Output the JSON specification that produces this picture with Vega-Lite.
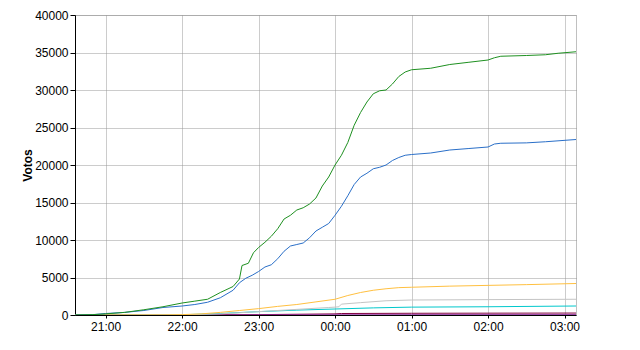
{
  "$schema": "https://vega.github.io/schema/vega-lite/v6.json",
  "autosize": "none",
  "width": 501,
  "height": 300,
  "padding": {"left": 75, "top": 15, "right": 64, "bottom": 35},
  "background": "white",
  "config": {
    "view": {"stroke": "#c0c0c0", "strokeWidth": 1}
  },
  "data": {
    "values": [
      {"s": "F", "t": "2000-01-01T20:36", "v": 0},
      {"s": "F", "t": "2000-01-01T23:00", "v": 50},
      {"s": "F", "t": "2000-01-02T00:00", "v": 150},
      {"s": "F", "t": "2000-01-02T00:05", "v": 200},
      {"s": "F", "t": "2000-01-02T01:00", "v": 230},
      {"s": "F", "t": "2000-01-02T03:09", "v": 260},
      {"s": "G", "t": "2000-01-01T20:36", "v": 0},
      {"s": "G", "t": "2000-01-01T23:30", "v": 20},
      {"s": "G", "t": "2000-01-02T01:00", "v": 40},
      {"s": "G", "t": "2000-01-02T03:09", "v": 50},
      {"s": "E", "t": "2000-01-01T20:36", "v": 0},
      {"s": "E", "t": "2000-01-01T22:00", "v": 30},
      {"s": "E", "t": "2000-01-01T22:30", "v": 200},
      {"s": "E", "t": "2000-01-01T23:00", "v": 450},
      {"s": "E", "t": "2000-01-01T23:30", "v": 650},
      {"s": "E", "t": "2000-01-02T00:00", "v": 800},
      {"s": "E", "t": "2000-01-02T00:30", "v": 950},
      {"s": "E", "t": "2000-01-02T01:00", "v": 1050},
      {"s": "E", "t": "2000-01-02T02:00", "v": 1100},
      {"s": "E", "t": "2000-01-02T03:09", "v": 1200},
      {"s": "D", "t": "2000-01-01T20:36", "v": 0},
      {"s": "D", "t": "2000-01-01T22:00", "v": 20},
      {"s": "D", "t": "2000-01-01T22:30", "v": 150},
      {"s": "D", "t": "2000-01-01T23:00", "v": 450},
      {"s": "D", "t": "2000-01-01T23:30", "v": 750},
      {"s": "D", "t": "2000-01-01T23:55", "v": 1000},
      {"s": "D", "t": "2000-01-02T00:00", "v": 1050},
      {"s": "D", "t": "2000-01-02T00:03", "v": 1100},
      {"s": "D", "t": "2000-01-02T00:05", "v": 1450},
      {"s": "D", "t": "2000-01-02T00:20", "v": 1650},
      {"s": "D", "t": "2000-01-02T00:40", "v": 1900},
      {"s": "D", "t": "2000-01-02T01:00", "v": 2000},
      {"s": "D", "t": "2000-01-02T02:00", "v": 2050},
      {"s": "D", "t": "2000-01-02T03:09", "v": 2100},
      {"s": "C", "t": "2000-01-01T20:36", "v": 0},
      {"s": "C", "t": "2000-01-01T21:45", "v": 20},
      {"s": "C", "t": "2000-01-01T22:00", "v": 50},
      {"s": "C", "t": "2000-01-01T22:15", "v": 150},
      {"s": "C", "t": "2000-01-01T22:30", "v": 350},
      {"s": "C", "t": "2000-01-01T22:45", "v": 600},
      {"s": "C", "t": "2000-01-01T23:00", "v": 850},
      {"s": "C", "t": "2000-01-01T23:15", "v": 1150},
      {"s": "C", "t": "2000-01-01T23:30", "v": 1400},
      {"s": "C", "t": "2000-01-01T23:45", "v": 1750},
      {"s": "C", "t": "2000-01-02T00:00", "v": 2100},
      {"s": "C", "t": "2000-01-02T00:10", "v": 2600},
      {"s": "C", "t": "2000-01-02T00:20", "v": 3000},
      {"s": "C", "t": "2000-01-02T00:30", "v": 3300},
      {"s": "C", "t": "2000-01-02T00:40", "v": 3500},
      {"s": "C", "t": "2000-01-02T00:50", "v": 3650},
      {"s": "C", "t": "2000-01-02T01:00", "v": 3700},
      {"s": "C", "t": "2000-01-02T01:30", "v": 3850},
      {"s": "C", "t": "2000-01-02T02:00", "v": 3950},
      {"s": "C", "t": "2000-01-02T02:30", "v": 4050},
      {"s": "C", "t": "2000-01-02T03:09", "v": 4200},
      {"s": "B", "t": "2000-01-01T20:36", "v": 0},
      {"s": "B", "t": "2000-01-01T20:50", "v": 50},
      {"s": "B", "t": "2000-01-01T21:00", "v": 200},
      {"s": "B", "t": "2000-01-01T21:15", "v": 350},
      {"s": "B", "t": "2000-01-01T21:30", "v": 600},
      {"s": "B", "t": "2000-01-01T21:45", "v": 1000},
      {"s": "B", "t": "2000-01-01T22:00", "v": 1200},
      {"s": "B", "t": "2000-01-01T22:10", "v": 1400},
      {"s": "B", "t": "2000-01-01T22:20", "v": 1700},
      {"s": "B", "t": "2000-01-01T22:30", "v": 2300},
      {"s": "B", "t": "2000-01-01T22:40", "v": 3300},
      {"s": "B", "t": "2000-01-01T22:45", "v": 4300},
      {"s": "B", "t": "2000-01-01T22:50", "v": 4900},
      {"s": "B", "t": "2000-01-01T22:55", "v": 5300},
      {"s": "B", "t": "2000-01-01T23:00", "v": 5800},
      {"s": "B", "t": "2000-01-01T23:05", "v": 6400},
      {"s": "B", "t": "2000-01-01T23:10", "v": 6700},
      {"s": "B", "t": "2000-01-01T23:15", "v": 7500},
      {"s": "B", "t": "2000-01-01T23:20", "v": 8500},
      {"s": "B", "t": "2000-01-01T23:25", "v": 9200},
      {"s": "B", "t": "2000-01-01T23:30", "v": 9400},
      {"s": "B", "t": "2000-01-01T23:35", "v": 9600},
      {"s": "B", "t": "2000-01-01T23:40", "v": 10300},
      {"s": "B", "t": "2000-01-01T23:45", "v": 11200},
      {"s": "B", "t": "2000-01-01T23:50", "v": 11700},
      {"s": "B", "t": "2000-01-01T23:55", "v": 12200},
      {"s": "B", "t": "2000-01-02T00:00", "v": 13300},
      {"s": "B", "t": "2000-01-02T00:05", "v": 14500},
      {"s": "B", "t": "2000-01-02T00:10", "v": 15900},
      {"s": "B", "t": "2000-01-02T00:15", "v": 17400},
      {"s": "B", "t": "2000-01-02T00:20", "v": 18400},
      {"s": "B", "t": "2000-01-02T00:25", "v": 18900},
      {"s": "B", "t": "2000-01-02T00:30", "v": 19500},
      {"s": "B", "t": "2000-01-02T00:35", "v": 19700},
      {"s": "B", "t": "2000-01-02T00:40", "v": 20000},
      {"s": "B", "t": "2000-01-02T00:45", "v": 20600},
      {"s": "B", "t": "2000-01-02T00:50", "v": 21000},
      {"s": "B", "t": "2000-01-02T00:55", "v": 21300},
      {"s": "B", "t": "2000-01-02T01:00", "v": 21400},
      {"s": "B", "t": "2000-01-02T01:15", "v": 21600},
      {"s": "B", "t": "2000-01-02T01:30", "v": 22000},
      {"s": "B", "t": "2000-01-02T01:45", "v": 22200},
      {"s": "B", "t": "2000-01-02T02:00", "v": 22400},
      {"s": "B", "t": "2000-01-02T02:05", "v": 22800},
      {"s": "B", "t": "2000-01-02T02:10", "v": 22900},
      {"s": "B", "t": "2000-01-02T02:30", "v": 22950},
      {"s": "B", "t": "2000-01-02T02:45", "v": 23100},
      {"s": "B", "t": "2000-01-02T03:09", "v": 23400},
      {"s": "A", "t": "2000-01-01T20:36", "v": 0},
      {"s": "A", "t": "2000-01-01T20:50", "v": 50},
      {"s": "A", "t": "2000-01-01T21:00", "v": 150},
      {"s": "A", "t": "2000-01-01T21:15", "v": 350},
      {"s": "A", "t": "2000-01-01T21:30", "v": 700},
      {"s": "A", "t": "2000-01-01T21:45", "v": 1100},
      {"s": "A", "t": "2000-01-01T22:00", "v": 1600},
      {"s": "A", "t": "2000-01-01T22:10", "v": 1850},
      {"s": "A", "t": "2000-01-01T22:20", "v": 2100},
      {"s": "A", "t": "2000-01-01T22:30", "v": 3000},
      {"s": "A", "t": "2000-01-01T22:40", "v": 3800},
      {"s": "A", "t": "2000-01-01T22:45", "v": 4800},
      {"s": "A", "t": "2000-01-01T22:47", "v": 6600},
      {"s": "A", "t": "2000-01-01T22:52", "v": 6900},
      {"s": "A", "t": "2000-01-01T22:56", "v": 8300},
      {"s": "A", "t": "2000-01-01T23:00", "v": 9000},
      {"s": "A", "t": "2000-01-01T23:05", "v": 9700},
      {"s": "A", "t": "2000-01-01T23:10", "v": 10500},
      {"s": "A", "t": "2000-01-01T23:15", "v": 11500},
      {"s": "A", "t": "2000-01-01T23:20", "v": 12800},
      {"s": "A", "t": "2000-01-01T23:25", "v": 13300},
      {"s": "A", "t": "2000-01-01T23:30", "v": 14000},
      {"s": "A", "t": "2000-01-01T23:35", "v": 14300},
      {"s": "A", "t": "2000-01-01T23:40", "v": 14800},
      {"s": "A", "t": "2000-01-01T23:45", "v": 15600},
      {"s": "A", "t": "2000-01-01T23:50", "v": 17200},
      {"s": "A", "t": "2000-01-01T23:55", "v": 18400},
      {"s": "A", "t": "2000-01-02T00:00", "v": 20000},
      {"s": "A", "t": "2000-01-02T00:05", "v": 21300},
      {"s": "A", "t": "2000-01-02T00:10", "v": 23000},
      {"s": "A", "t": "2000-01-02T00:15", "v": 25300},
      {"s": "A", "t": "2000-01-02T00:20", "v": 27000},
      {"s": "A", "t": "2000-01-02T00:25", "v": 28400},
      {"s": "A", "t": "2000-01-02T00:30", "v": 29500},
      {"s": "A", "t": "2000-01-02T00:35", "v": 29900},
      {"s": "A", "t": "2000-01-02T00:40", "v": 30000},
      {"s": "A", "t": "2000-01-02T00:45", "v": 30800},
      {"s": "A", "t": "2000-01-02T00:50", "v": 31800},
      {"s": "A", "t": "2000-01-02T00:55", "v": 32400},
      {"s": "A", "t": "2000-01-02T01:00", "v": 32700},
      {"s": "A", "t": "2000-01-02T01:15", "v": 32900},
      {"s": "A", "t": "2000-01-02T01:30", "v": 33400},
      {"s": "A", "t": "2000-01-02T01:45", "v": 33700},
      {"s": "A", "t": "2000-01-02T02:00", "v": 34000},
      {"s": "A", "t": "2000-01-02T02:05", "v": 34300},
      {"s": "A", "t": "2000-01-02T02:10", "v": 34500},
      {"s": "A", "t": "2000-01-02T02:30", "v": 34600},
      {"s": "A", "t": "2000-01-02T02:45", "v": 34700},
      {"s": "A", "t": "2000-01-02T02:55", "v": 34900},
      {"s": "A", "t": "2000-01-02T03:09", "v": 35100}
    ]
  },
  "mark": {"type": "line", "strokeWidth": 1, "clip": true},
  "encoding": {
    "x": {
      "field": "t",
      "type": "temporal",
      "axis": {
        "title": null,
        "format": "%H:%M",
        "tickCount": 7,
        "tickSize": 3,
        "labelPadding": 3,
        "labelFont": "Liberation Sans",
        "labelFontSize": 12,
        "labelColor": "#000000",
        "domainColor": "#000000",
        "tickColor": "#000000",
        "gridColor": "#999999",
        "gridDash": [1, 1]
      }
    },
    "y": {
      "field": "v",
      "type": "quantitative",
      "scale": {"domain": [0, 40000], "nice": false},
      "axis": {
        "title": "Votos",
        "titleFont": "Liberation Sans",
        "titleFontSize": 12,
        "titleFontWeight": "bold",
        "titleColor": "#000000",
        "titlePadding": 0,
        "tickCount": 8,
        "format": "d",
        "tickSize": 5,
        "labelPadding": 2,
        "labelFont": "Liberation Sans",
        "labelFontSize": 12,
        "labelColor": "#000000",
        "domainColor": "#000000",
        "tickColor": "#000000",
        "gridColor": "#999999",
        "gridDash": [1, 1]
      }
    },
    "color": {
      "field": "s",
      "type": "nominal",
      "legend": null,
      "scale": {
        "domain": ["A", "B", "C", "D", "E", "F", "G"],
        "range": ["#1e9020", "#2a6fc8", "#ffc040", "#c4c4c4", "#00c8cc", "#800040", "#9030a0"]
      }
    }
  }
}
